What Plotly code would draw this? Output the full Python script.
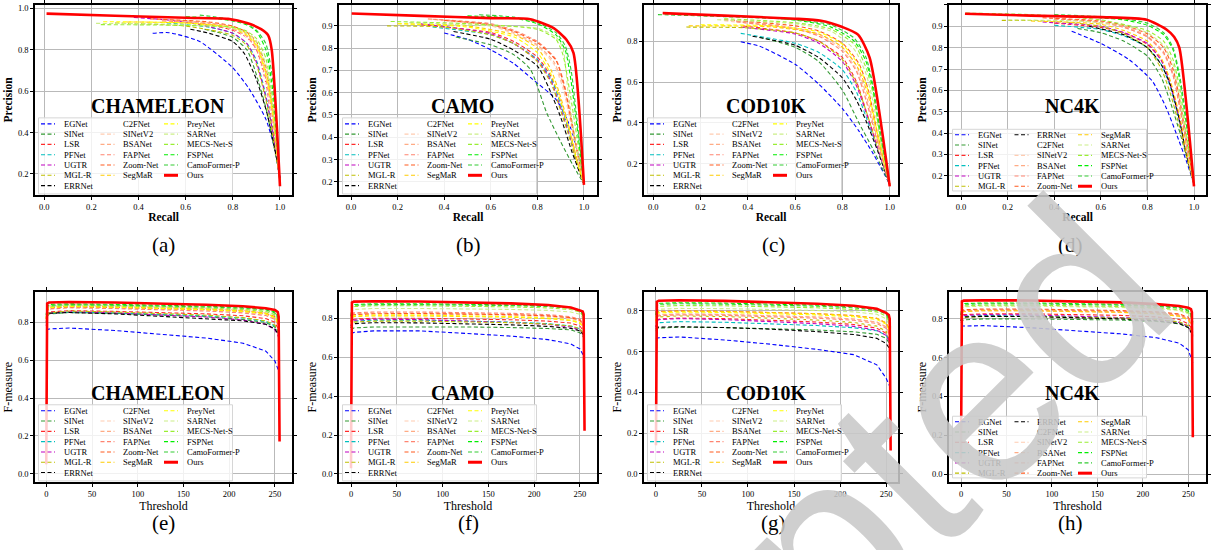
import plotly.graph_objects as go

W, H = 1211, 550

METHODS = ["EGNet", "SINet", "LSR", "PFNet", "UGTR", "MGL-R", "ERRNet",
           "C2FNet", "SINetV2", "BSANet", "FAPNet", "Zoom-Net", "SegMaR",
           "PreyNet", "SARNet", "MECS-Net-S", "FSPNet", "CamoFormer-P", "Ours"]
COLORS = ["#0000ff", "#339933", "#ff2a2a", "#00bfbf", "#c000c0", "#bfbf00", "#000000",
          "#ffffff", "#ffcbb0", "#ffab85", "#ff8470", "#ff5a1f", "#ffcc00",
          "#ffff00", "#ccee88", "#99ee33", "#00ee00", "#33cc33", "#ff0000"]
DATASETS = ["CHAMELEON", "CAMO", "COD10K", "NC4K"]
CAPTIONS = ["(a)", "(b)", "(c)", "(d)", "(e)", "(f)", "(g)", "(h)"]

# ---------------- PR curves (recall, precision), METHODS order ----------------
CHAM_PR_RECALL = [
    [0.46, 0.53, 0.66, 0.80, 0.87, 0.94, 0.985, 1.0],
    [0.68, 0.75, 0.8, 0.86, 0.9, 0.94, 0.98, 1.0],
    [0.55, 0.7, 0.8, 0.86, 0.9, 0.94, 0.97, 1.0],
    [0.52, 0.7, 0.8, 0.86, 0.9, 0.94, 0.97, 1.0],
    [0.38, 0.6, 0.8, 0.86, 0.9, 0.94, 0.97, 1.0],
    [0.30, 0.6, 0.8, 0.86, 0.9, 0.94, 0.97, 1.0],
    [0.62, 0.7, 0.8, 0.85, 0.9, 0.944, 0.986, 1.0],
    [0.5, 0.7, 0.8, 0.86, 0.9, 0.94, 0.97, 1.0],
    [0.5, 0.7, 0.8, 0.86, 0.9, 0.94, 0.97, 1.0],
    [0.55, 0.7, 0.8, 0.86, 0.9, 0.94, 0.97, 1.0],
    [0.5, 0.7, 0.8, 0.86, 0.9, 0.94, 0.97, 1.0],
    [0.45, 0.7, 0.8, 0.86, 0.9, 0.94, 0.97, 1.0],
    [0.35, 0.6, 0.8, 0.86, 0.9, 0.94, 0.97, 1.0],
    [0.25, 0.6, 0.8, 0.86, 0.9, 0.94, 0.97, 1.0],
    [0.22, 0.5, 0.7, 0.8, 0.86, 0.9, 0.94, 0.97, 1.0],
    [0.24, 0.5, 0.7, 0.8, 0.86, 0.9, 0.94, 0.97, 1.0],
    [0.6, 0.7, 0.8, 0.86, 0.9, 0.94, 0.97, 1.0],
    [0.66, 0.72, 0.8, 0.86, 0.9, 0.94, 0.97, 1.0],
    [0.01, 0.3, 0.6, 0.78, 0.86, 0.92, 0.95, 0.965, 1.0],
]
CHAM_PR_PRECISION = [
    [0.88, 0.883, 0.84, 0.713, 0.61, 0.465, 0.29, 0.18],
    [0.90, 0.88, 0.86, 0.80, 0.68, 0.52, 0.30, 0.17],
    [0.94, 0.92, 0.895, 0.86, 0.80, 0.64, 0.42, 0.16],
    [0.93, 0.91, 0.88, 0.83, 0.75, 0.58, 0.40, 0.17],
    [0.957, 0.935, 0.88, 0.83, 0.74, 0.57, 0.40, 0.17],
    [0.93, 0.915, 0.87, 0.82, 0.73, 0.56, 0.38, 0.17],
    [0.90, 0.88, 0.84, 0.78, 0.657, 0.497, 0.273, 0.18],
    [0.94, 0.925, 0.90, 0.86, 0.79, 0.64, 0.45, 0.16],
    [0.945, 0.93, 0.905, 0.87, 0.81, 0.67, 0.47, 0.16],
    [0.945, 0.93, 0.91, 0.875, 0.82, 0.69, 0.50, 0.16],
    [0.94, 0.925, 0.90, 0.865, 0.80, 0.66, 0.46, 0.16],
    [0.95, 0.935, 0.915, 0.885, 0.84, 0.72, 0.52, 0.15],
    [0.935, 0.93, 0.91, 0.88, 0.83, 0.70, 0.50, 0.15],
    [0.936, 0.93, 0.905, 0.87, 0.82, 0.68, 0.48, 0.16],
    [0.928, 0.925, 0.915, 0.905, 0.88, 0.84, 0.73, 0.52, 0.15],
    [0.922, 0.92, 0.915, 0.91, 0.89, 0.855, 0.76, 0.55, 0.15],
    [0.96, 0.955, 0.94, 0.92, 0.89, 0.80, 0.60, 0.15],
    [0.968, 0.96, 0.945, 0.925, 0.895, 0.83, 0.65, 0.15],
    [0.975, 0.965, 0.955, 0.95, 0.93, 0.90, 0.87, 0.80, 0.14],
]

CAMO_PR_RECALL = [
    [0.40, 0.5, 0.6, 0.7, 0.78, 0.88, 0.94, 0.98, 1.0],
    [0.45, 0.6, 0.7, 0.77, 0.84, 0.9, 0.95, 1.0],
    [0.3, 0.6, 0.7, 0.8, 0.86, 0.9, 0.94, 0.97, 1.0],
    [0.35, 0.6, 0.7, 0.8, 0.86, 0.9, 0.94, 0.97, 1.0],
    [0.30, 0.6, 0.7, 0.8, 0.86, 0.9, 0.94, 0.97, 1.0],
    [0.155, 0.4, 0.6, 0.7, 0.8, 0.86, 0.9, 0.94, 0.97, 1.0],
    [0.44, 0.6, 0.7, 0.8, 0.85, 0.9, 0.95, 1.0],
    [0.3, 0.6, 0.7, 0.8, 0.86, 0.9, 0.94, 0.97, 1.0],
    [0.33, 0.6, 0.7, 0.8, 0.87, 0.91, 0.94, 0.97, 1.0],
    [0.33, 0.6, 0.7, 0.8, 0.87, 0.91, 0.94, 0.97, 1.0],
    [0.35, 0.6, 0.7, 0.8, 0.88, 0.92, 0.95, 0.98, 1.0],
    [0.4, 0.6, 0.7, 0.8, 0.88, 0.92, 0.95, 0.98, 1.0],
    [0.2, 0.5, 0.7, 0.8, 0.86, 0.9, 0.94, 0.97, 1.0],
    [0.2, 0.5, 0.7, 0.8, 0.86, 0.9, 0.94, 0.97, 1.0],
    [0.25, 0.6, 0.8, 0.88, 0.91, 0.93, 0.96, 1.0],
    [0.17, 0.5, 0.8, 0.88, 0.91, 0.94, 0.97, 1.0],
    [0.5, 0.7, 0.8, 0.88, 0.92, 0.945, 0.97, 1.0],
    [0.55, 0.7, 0.8, 0.88, 0.92, 0.945, 0.97, 1.0],
    [0.003, 0.3, 0.6, 0.77, 0.87, 0.925, 0.955, 1.0],
]
CAMO_PR_PRECISION = [
    [0.868, 0.84, 0.793, 0.73, 0.66, 0.57, 0.45, 0.30, 0.19],
    [0.85, 0.815, 0.77, 0.705, 0.51, 0.38, 0.28, 0.19],
    [0.905, 0.87, 0.83, 0.76, 0.67, 0.56, 0.42, 0.30, 0.19],
    [0.895, 0.86, 0.82, 0.75, 0.66, 0.55, 0.41, 0.29, 0.19],
    [0.91, 0.865, 0.82, 0.745, 0.65, 0.53, 0.40, 0.28, 0.19],
    [0.90, 0.895, 0.86, 0.82, 0.74, 0.64, 0.52, 0.39, 0.28, 0.19],
    [0.875, 0.84, 0.79, 0.72, 0.62, 0.49, 0.33, 0.19],
    [0.92, 0.885, 0.85, 0.785, 0.70, 0.60, 0.45, 0.31, 0.19],
    [0.93, 0.90, 0.865, 0.81, 0.73, 0.62, 0.48, 0.33, 0.19],
    [0.932, 0.905, 0.87, 0.815, 0.74, 0.64, 0.50, 0.34, 0.19],
    [0.93, 0.91, 0.88, 0.83, 0.75, 0.62, 0.46, 0.30, 0.19],
    [0.925, 0.905, 0.875, 0.825, 0.745, 0.61, 0.45, 0.29, 0.19],
    [0.91, 0.90, 0.86, 0.80, 0.70, 0.58, 0.43, 0.30, 0.19],
    [0.91, 0.895, 0.85, 0.78, 0.68, 0.56, 0.42, 0.29, 0.19],
    [0.915, 0.90, 0.89, 0.85, 0.80, 0.62, 0.40, 0.19],
    [0.92, 0.91, 0.885, 0.84, 0.77, 0.60, 0.40, 0.19],
    [0.945, 0.935, 0.91, 0.86, 0.79, 0.65, 0.45, 0.19],
    [0.95, 0.94, 0.915, 0.87, 0.81, 0.70, 0.48, 0.19],
    [0.956, 0.945, 0.935, 0.93, 0.89, 0.838, 0.779, 0.186],
]

COD_PR_RECALL = [
    [0.37, 0.45, 0.6, 0.7, 0.8, 0.87, 0.93, 1.0],
    [0.45, 0.6, 0.7, 0.8, 0.87, 0.93, 1.0],
    [0.38, 0.6, 0.7, 0.8, 0.86, 0.9, 0.95, 1.0],
    [0.37, 0.6, 0.7, 0.8, 0.86, 0.9, 0.95, 1.0],
    [0.37, 0.6, 0.7, 0.8, 0.86, 0.9, 0.95, 1.0],
    [0.14, 0.4, 0.6, 0.7, 0.8, 0.86, 0.9, 0.95, 1.0],
    [0.42, 0.6, 0.7, 0.8, 0.86, 0.9, 0.95, 1.0],
    [0.3, 0.6, 0.7, 0.8, 0.86, 0.9, 0.95, 1.0],
    [0.3, 0.6, 0.7, 0.8, 0.86, 0.9, 0.95, 1.0],
    [0.35, 0.6, 0.7, 0.8, 0.86, 0.9, 0.95, 1.0],
    [0.35, 0.6, 0.7, 0.8, 0.86, 0.9, 0.95, 1.0],
    [0.3, 0.6, 0.7, 0.8, 0.87, 0.91, 0.95, 1.0],
    [0.15, 0.5, 0.7, 0.8, 0.87, 0.91, 0.95, 1.0],
    [0.2, 0.5, 0.7, 0.8, 0.87, 0.91, 0.95, 1.0],
    [0.27, 0.6, 0.75, 0.85, 0.9, 0.93, 0.96, 1.0],
    [0.3, 0.6, 0.75, 0.85, 0.9, 0.93, 0.96, 1.0],
    [0.5, 0.65, 0.75, 0.85, 0.9, 0.93, 0.96, 1.0],
    [0.02, 0.3, 0.6, 0.75, 0.85, 0.9, 0.93, 0.96, 1.0],
    [0.04, 0.3, 0.6, 0.71, 0.8, 0.866, 0.915, 1.0],
]
COD_PR_PRECISION = [
    [0.797, 0.775, 0.687, 0.59, 0.47, 0.36, 0.25, 0.10],
    [0.82, 0.77, 0.70, 0.56, 0.40, 0.27, 0.10],
    [0.875, 0.84, 0.80, 0.72, 0.60, 0.46, 0.28, 0.10],
    [0.838, 0.79, 0.745, 0.66, 0.55, 0.43, 0.27, 0.10],
    [0.869, 0.835, 0.79, 0.70, 0.58, 0.45, 0.27, 0.10],
    [0.869, 0.865, 0.84, 0.80, 0.71, 0.59, 0.46, 0.28, 0.10],
    [0.824, 0.78, 0.72, 0.62, 0.51, 0.41, 0.26, 0.10],
    [0.89, 0.85, 0.815, 0.74, 0.63, 0.49, 0.29, 0.10],
    [0.90, 0.86, 0.83, 0.76, 0.66, 0.52, 0.30, 0.10],
    [0.90, 0.865, 0.835, 0.77, 0.68, 0.54, 0.31, 0.10],
    [0.895, 0.86, 0.825, 0.75, 0.65, 0.51, 0.30, 0.10],
    [0.905, 0.875, 0.85, 0.79, 0.69, 0.56, 0.34, 0.10],
    [0.875, 0.87, 0.835, 0.77, 0.66, 0.53, 0.33, 0.10],
    [0.88, 0.875, 0.845, 0.785, 0.68, 0.55, 0.34, 0.10],
    [0.905, 0.885, 0.85, 0.76, 0.64, 0.50, 0.32, 0.10],
    [0.91, 0.89, 0.86, 0.785, 0.67, 0.54, 0.33, 0.10],
    [0.915, 0.895, 0.87, 0.80, 0.70, 0.56, 0.35, 0.10],
    [0.93, 0.92, 0.905, 0.88, 0.815, 0.72, 0.58, 0.36, 0.10],
    [0.937, 0.925, 0.91, 0.90, 0.869, 0.832, 0.72, 0.09],
]

# NC4K has no PreyNet curve (None)
NC4K_PR_RECALL = [
    [0.475, 0.6, 0.72, 0.82, 0.88, 0.93, 0.97, 1.0],
    [0.5, 0.6, 0.7, 0.8, 0.86, 0.9, 0.94, 0.97, 1.0],
    [0.4, 0.6, 0.7, 0.8, 0.86, 0.9, 0.94, 0.97, 1.0],
    [0.4, 0.6, 0.7, 0.8, 0.86, 0.9, 0.94, 0.97, 1.0],
    [0.35, 0.6, 0.7, 0.8, 0.86, 0.9, 0.94, 0.97, 1.0],
    [0.175, 0.4, 0.6, 0.7, 0.8, 0.86, 0.9, 0.94, 0.97, 1.0],
    [0.55, 0.7, 0.8, 0.86, 0.9, 0.94, 0.97, 1.0],
    [0.35, 0.6, 0.7, 0.8, 0.86, 0.9, 0.94, 0.97, 1.0],
    [0.4, 0.6, 0.7, 0.8, 0.87, 0.91, 0.94, 0.97, 1.0],
    [0.4, 0.6, 0.7, 0.8, 0.87, 0.91, 0.94, 0.97, 1.0],
    [0.4, 0.6, 0.7, 0.8, 0.87, 0.91, 0.94, 0.97, 1.0],
    [0.35, 0.6, 0.7, 0.8, 0.87, 0.91, 0.94, 0.97, 1.0],
    [0.3, 0.6, 0.7, 0.8, 0.86, 0.9, 0.94, 0.97, 1.0],
    None,
    [0.2, 0.5, 0.7, 0.8, 0.87, 0.91, 0.94, 0.97, 1.0],
    [0.02, 0.3, 0.6, 0.8, 0.87, 0.91, 0.94, 0.97, 1.0],
    [0.45, 0.6, 0.7, 0.8, 0.87, 0.91, 0.94, 0.97, 1.0],
    [0.4, 0.6, 0.7, 0.8, 0.87, 0.91, 0.94, 0.97, 1.0],
    [0.017, 0.3, 0.6, 0.797, 0.883, 0.915, 0.937, 1.0],
]
NC4K_PR_PRECISION = [
    [0.877, 0.82, 0.745, 0.645, 0.52, 0.38, 0.26, 0.16],
    [0.89, 0.87, 0.83, 0.76, 0.66, 0.54, 0.40, 0.28, 0.16],
    [0.915, 0.895, 0.87, 0.815, 0.74, 0.63, 0.46, 0.30, 0.16],
    [0.905, 0.885, 0.855, 0.80, 0.72, 0.61, 0.44, 0.29, 0.16],
    [0.92, 0.90, 0.87, 0.82, 0.74, 0.62, 0.45, 0.29, 0.16],
    [0.928, 0.925, 0.90, 0.865, 0.80, 0.70, 0.58, 0.42, 0.28, 0.16],
    [0.90, 0.86, 0.80, 0.72, 0.62, 0.45, 0.29, 0.16],
    [0.93, 0.91, 0.885, 0.84, 0.77, 0.67, 0.49, 0.31, 0.16],
    [0.935, 0.915, 0.895, 0.85, 0.77, 0.67, 0.52, 0.33, 0.16],
    [0.935, 0.92, 0.90, 0.855, 0.78, 0.68, 0.53, 0.34, 0.16],
    [0.935, 0.92, 0.895, 0.85, 0.775, 0.67, 0.51, 0.33, 0.16],
    [0.94, 0.925, 0.905, 0.865, 0.80, 0.70, 0.55, 0.35, 0.16],
    [0.925, 0.91, 0.88, 0.83, 0.75, 0.64, 0.47, 0.30, 0.16],
    None,
    [0.93, 0.925, 0.905, 0.87, 0.81, 0.72, 0.56, 0.36, 0.16],
    [0.962, 0.955, 0.93, 0.88, 0.83, 0.745, 0.60, 0.38, 0.16],
    [0.95, 0.94, 0.93, 0.905, 0.86, 0.79, 0.64, 0.42, 0.16],
    [0.955, 0.945, 0.935, 0.915, 0.87, 0.80, 0.66, 0.44, 0.16],
    [0.959, 0.95, 0.943, 0.931, 0.884, 0.85, 0.80, 0.15],
]

# ---------------- F-measure curves over threshold ----------------
THRESH = [0, 1, 3, 25, 75, 125, 175, 215, 240, 250, 253, 255]
THRESH_OURS = [0, 1, 3, 25, 75, 125, 175, 215, 240, 250, 253, 254, 255]

CHAM_F = [
    [0.76, 0.762, 0.765, 0.77, 0.757, 0.737, 0.717, 0.69, 0.648, 0.595, 0.56, 0.53],
    [0.80, 0.83, 0.845, 0.852, 0.848, 0.84, 0.83, 0.815, 0.80, 0.775, 0.75, 0.72],
    [0.80, 0.84, 0.855, 0.862, 0.858, 0.852, 0.845, 0.835, 0.82, 0.80, 0.77, 0.74],
    [0.80, 0.835, 0.848, 0.855, 0.85, 0.843, 0.835, 0.823, 0.805, 0.78, 0.755, 0.73],
    [0.78, 0.83, 0.848, 0.856, 0.85, 0.84, 0.828, 0.812, 0.79, 0.76, 0.735, 0.70],
    [0.05, 0.82, 0.85, 0.86, 0.855, 0.848, 0.838, 0.825, 0.808, 0.785, 0.76, 0.73],
    [0.82, 0.84, 0.848, 0.852, 0.845, 0.832, 0.82, 0.808, 0.79, 0.765, 0.74, 0.72],
    [0.80, 0.85, 0.865, 0.872, 0.868, 0.862, 0.855, 0.845, 0.83, 0.81, 0.785, 0.75],
    [0.82, 0.87, 0.885, 0.892, 0.888, 0.882, 0.874, 0.864, 0.85, 0.83, 0.80, 0.76],
    [0.82, 0.86, 0.875, 0.882, 0.878, 0.872, 0.865, 0.856, 0.843, 0.822, 0.795, 0.76],
    [0.81, 0.855, 0.87, 0.877, 0.873, 0.867, 0.86, 0.85, 0.836, 0.815, 0.79, 0.755],
    [0.82, 0.86, 0.875, 0.882, 0.879, 0.874, 0.868, 0.86, 0.848, 0.83, 0.805, 0.77],
    [0.82, 0.865, 0.88, 0.886, 0.882, 0.877, 0.87, 0.861, 0.848, 0.828, 0.80, 0.765],
    [0.82, 0.865, 0.878, 0.884, 0.88, 0.874, 0.867, 0.858, 0.845, 0.825, 0.798, 0.76],
    [0.83, 0.875, 0.888, 0.893, 0.89, 0.885, 0.879, 0.871, 0.86, 0.842, 0.815, 0.775],
    [0.83, 0.87, 0.883, 0.889, 0.886, 0.882, 0.876, 0.868, 0.857, 0.84, 0.815, 0.775],
    [0.84, 0.885, 0.895, 0.898, 0.895, 0.891, 0.886, 0.879, 0.87, 0.855, 0.83, 0.79],
    [0.84, 0.88, 0.89, 0.894, 0.891, 0.887, 0.882, 0.875, 0.866, 0.85, 0.825, 0.785],
    [0.05, 0.90, 0.905, 0.908, 0.905, 0.90, 0.893, 0.885, 0.875, 0.865, 0.855, 0.83, 0.17],
]
CAMO_F = [
    [0.72, 0.722, 0.727, 0.735, 0.735, 0.722, 0.708, 0.69, 0.668, 0.642, 0.615, 0.597],
    [0.74, 0.745, 0.75, 0.755, 0.756, 0.755, 0.752, 0.747, 0.74, 0.725, 0.71, 0.69],
    [0.76, 0.785, 0.795, 0.80, 0.80, 0.797, 0.792, 0.785, 0.775, 0.76, 0.74, 0.72],
    [0.76, 0.775, 0.785, 0.79, 0.79, 0.786, 0.78, 0.772, 0.76, 0.745, 0.725, 0.70],
    [0.76, 0.78, 0.79, 0.795, 0.793, 0.787, 0.778, 0.768, 0.755, 0.74, 0.72, 0.69],
    [0.75, 0.77, 0.78, 0.785, 0.785, 0.782, 0.777, 0.77, 0.76, 0.745, 0.725, 0.70],
    [0.75, 0.765, 0.772, 0.777, 0.776, 0.772, 0.766, 0.758, 0.748, 0.735, 0.72, 0.70],
    [0.77, 0.795, 0.803, 0.808, 0.808, 0.805, 0.80, 0.793, 0.783, 0.768, 0.75, 0.725],
    [0.78, 0.81, 0.818, 0.822, 0.822, 0.819, 0.814, 0.807, 0.797, 0.782, 0.765, 0.74],
    [0.78, 0.815, 0.823, 0.827, 0.827, 0.824, 0.819, 0.812, 0.802, 0.788, 0.77, 0.745],
    [0.785, 0.82, 0.828, 0.832, 0.832, 0.829, 0.825, 0.818, 0.808, 0.795, 0.775, 0.75],
    [0.78, 0.81, 0.818, 0.823, 0.824, 0.822, 0.818, 0.812, 0.803, 0.79, 0.772, 0.745],
    [0.77, 0.80, 0.808, 0.812, 0.812, 0.81, 0.805, 0.798, 0.788, 0.775, 0.757, 0.73],
    [0.775, 0.805, 0.812, 0.816, 0.816, 0.813, 0.808, 0.801, 0.79, 0.776, 0.758, 0.73],
    [0.79, 0.835, 0.845, 0.85, 0.85, 0.848, 0.845, 0.84, 0.832, 0.82, 0.80, 0.77],
    [0.80, 0.85, 0.86, 0.864, 0.864, 0.862, 0.858, 0.853, 0.845, 0.832, 0.812, 0.78],
    [0.81, 0.86, 0.87, 0.874, 0.874, 0.872, 0.868, 0.863, 0.855, 0.842, 0.822, 0.79],
    [0.81, 0.855, 0.866, 0.87, 0.87, 0.868, 0.865, 0.86, 0.852, 0.84, 0.82, 0.79],
    [0.03, 0.88, 0.885, 0.887, 0.886, 0.882, 0.876, 0.868, 0.855, 0.84, 0.835, 0.82, 0.222],
]
COD_F = [
    [0.663, 0.665, 0.668, 0.672, 0.657, 0.636, 0.611, 0.585, 0.535, 0.47, 0.435, 0.42],
    [0.70, 0.71, 0.715, 0.72, 0.718, 0.713, 0.706, 0.697, 0.685, 0.665, 0.645, 0.62],
    [0.72, 0.75, 0.76, 0.765, 0.762, 0.755, 0.745, 0.733, 0.715, 0.69, 0.665, 0.64],
    [0.72, 0.735, 0.742, 0.747, 0.744, 0.737, 0.728, 0.717, 0.702, 0.68, 0.66, 0.64],
    [0.72, 0.75, 0.757, 0.762, 0.757, 0.748, 0.737, 0.724, 0.705, 0.68, 0.655, 0.63],
    [0.14, 0.76, 0.77, 0.775, 0.772, 0.765, 0.755, 0.743, 0.725, 0.70, 0.675, 0.65],
    [0.71, 0.717, 0.72, 0.722, 0.718, 0.71, 0.698, 0.684, 0.665, 0.64, 0.62, 0.60],
    [0.73, 0.76, 0.768, 0.772, 0.77, 0.764, 0.756, 0.745, 0.728, 0.705, 0.68, 0.655],
    [0.74, 0.775, 0.782, 0.786, 0.784, 0.778, 0.77, 0.76, 0.745, 0.722, 0.697, 0.67],
    [0.74, 0.772, 0.78, 0.784, 0.782, 0.777, 0.77, 0.76, 0.745, 0.722, 0.698, 0.67],
    [0.74, 0.768, 0.776, 0.78, 0.778, 0.772, 0.764, 0.754, 0.738, 0.715, 0.69, 0.665],
    [0.75, 0.79, 0.797, 0.80, 0.798, 0.793, 0.786, 0.777, 0.763, 0.74, 0.715, 0.685],
    [0.75, 0.787, 0.795, 0.798, 0.797, 0.792, 0.786, 0.777, 0.764, 0.742, 0.716, 0.685],
    [0.75, 0.783, 0.79, 0.794, 0.792, 0.787, 0.78, 0.771, 0.757, 0.735, 0.71, 0.68],
    [0.76, 0.80, 0.808, 0.812, 0.811, 0.807, 0.802, 0.795, 0.783, 0.762, 0.735, 0.70],
    [0.77, 0.815, 0.822, 0.826, 0.825, 0.821, 0.815, 0.807, 0.795, 0.775, 0.748, 0.71],
    [0.78, 0.83, 0.837, 0.84, 0.838, 0.834, 0.828, 0.82, 0.808, 0.79, 0.763, 0.72],
    [0.78, 0.825, 0.832, 0.835, 0.833, 0.829, 0.823, 0.815, 0.803, 0.785, 0.758, 0.715],
    [0.14, 0.845, 0.85, 0.852, 0.849, 0.843, 0.835, 0.825, 0.81, 0.79, 0.78, 0.76, 0.114],
]
NC4K_F = [
    [0.763, 0.763, 0.764, 0.765, 0.755, 0.74, 0.723, 0.703, 0.675, 0.64, 0.60, 0.574],
    [0.78, 0.79, 0.795, 0.80, 0.80, 0.798, 0.794, 0.787, 0.775, 0.755, 0.735, 0.71],
    [0.79, 0.815, 0.822, 0.826, 0.826, 0.823, 0.818, 0.81, 0.797, 0.775, 0.755, 0.73],
    [0.79, 0.808, 0.813, 0.817, 0.816, 0.812, 0.806, 0.797, 0.783, 0.762, 0.74, 0.715],
    [0.79, 0.812, 0.818, 0.822, 0.82, 0.815, 0.807, 0.797, 0.782, 0.76, 0.737, 0.71],
    [0.08, 0.80, 0.808, 0.812, 0.812, 0.809, 0.804, 0.797, 0.785, 0.765, 0.743, 0.72],
    [0.79, 0.805, 0.81, 0.813, 0.812, 0.807, 0.80, 0.79, 0.776, 0.755, 0.735, 0.715],
    [0.80, 0.825, 0.832, 0.836, 0.836, 0.833, 0.828, 0.82, 0.808, 0.788, 0.765, 0.74],
    [0.80, 0.83, 0.837, 0.841, 0.841, 0.838, 0.833, 0.826, 0.814, 0.795, 0.772, 0.745],
    [0.80, 0.833, 0.84, 0.844, 0.844, 0.841, 0.836, 0.829, 0.818, 0.80, 0.777, 0.75],
    [0.80, 0.836, 0.843, 0.847, 0.847, 0.844, 0.839, 0.832, 0.821, 0.803, 0.78, 0.75],
    [0.80, 0.84, 0.847, 0.851, 0.851, 0.848, 0.843, 0.836, 0.826, 0.808, 0.785, 0.755],
    [0.80, 0.832, 0.838, 0.842, 0.842, 0.839, 0.834, 0.826, 0.814, 0.795, 0.772, 0.745],
    None,
    [0.81, 0.855, 0.862, 0.866, 0.866, 0.863, 0.859, 0.853, 0.843, 0.826, 0.803, 0.77],
    [0.81, 0.86, 0.867, 0.871, 0.871, 0.868, 0.864, 0.858, 0.848, 0.832, 0.808, 0.775],
    [0.82, 0.872, 0.879, 0.882, 0.882, 0.879, 0.875, 0.869, 0.86, 0.845, 0.822, 0.785],
    [0.82, 0.868, 0.875, 0.878, 0.878, 0.875, 0.871, 0.865, 0.856, 0.84, 0.817, 0.78],
    [0.08, 0.89, 0.894, 0.896, 0.895, 0.891, 0.885, 0.876, 0.866, 0.857, 0.85, 0.835, 0.19],
]

LEGEND_COLS_19 = [METHODS[0:7], METHODS[7:13], METHODS[13:19]]
LEGEND_COLS_NC4K = [["EGNet", "SINet", "LSR", "PFNet", "UGTR", "MGL-R"],
                    ["ERRNet", "C2FNet", "SINetV2", "BSANet", "FAPNet", "Zoom-Net"],
                    ["SegMaR", "SARNet", "MECS-Net-S", "FSPNet", "CamoFormer-P", "Ours"]]

PR_RECALL = [CHAM_PR_RECALL, CAMO_PR_RECALL, COD_PR_RECALL, NC4K_PR_RECALL]
PR_PRECISION = [CHAM_PR_PRECISION, CAMO_PR_PRECISION, COD_PR_PRECISION, NC4K_PR_PRECISION]
F_VALUES = [CHAM_F, CAMO_F, COD_F, NC4K_F]

# ---------------- layout geometry (screen pixels) ----------------
COL_PX = [(35, 292), (339, 597), (644, 898), (949, 1206)]
ROW_PX = [(2, 193), (290.5, 482)]
TOP_YRANGE = [[0.098, 1.017], [0.141, 0.994], [0.048, 0.977], [0.11, 1.0]]
TOP_YTICKS = [[0.2, 0.4, 0.6, 0.8, 1.0], [0.2, 0.3, 0.4, 0.5, 0.6, 0.7, 0.8, 0.9],
              [0.2, 0.4, 0.6, 0.8], [0.2, 0.3, 0.4, 0.5, 0.6, 0.7, 0.8, 0.9, 1.0]]
TOP_XRANGE = [[-0.039, 1.051], [-0.0515, 1.056], [-0.039, 1.035], [-0.0515, 1.0515]]
BOT_XRANGE = [[-12.3, 268.6], [-13.1, 268.6], [-13.0, 263.0], [-13.2, 269.5]]
BOT_YRANGE = [[-0.046, 0.961], [-0.043, 0.935], [-0.042, 0.893], [-0.043, 0.939]]
CAPTION_X = [163, 468, 773, 1070]
CAPTION_Y = [243, 523]

SERIF = "Liberation Serif, Times New Roman, Times, DejaVu Serif, serif"
DASH = "4px,2.5px"

fig = go.Figure()
shapes = []
annotations = []


def line_style(name, color):
    if name == "Ours":
        return dict(color=color, width=2.6)
    return dict(color=color, width=1.1, dash=DASH)


def px_x(p):
    return p / W


def px_y(p):
    return 1 - p / H


for k in range(8):
    row = k // 4
    col = k % 4
    ax = "" if k == 0 else str(k + 1)
    xref, yref = "x" + ax, "y" + ax
    L, R = COL_PX[col]
    T, B = ROW_PX[row]
    nc4k = (col == 3)

    for i, name in enumerate(METHODS):
        if row == 0:
            xs = PR_RECALL[col][i]
            ys = PR_PRECISION[col][i]
            if xs is None:
                continue
            ls = line_style(name, COLORS[i])
            ls["shape"] = "spline"
            ls["smoothing"] = 0.6
        else:
            ys = F_VALUES[col][i]
            if ys is None:
                continue
            xs = THRESH_OURS if name == "Ours" else THRESH
            ls = line_style(name, COLORS[i])
        fig.add_trace(go.Scatter(x=xs, y=ys, mode="lines", line=ls, name=name,
                                 showlegend=False, hoverinfo="skip",
                                 xaxis=xref, yaxis=yref))

    common = dict(showline=True, linecolor="black", linewidth=1.5, mirror="ticks",
                  ticks="outside", ticklen=3, tickwidth=1, tickcolor="black",
                  showgrid=True, gridcolor="#b9b9b9", gridwidth=1, zeroline=False,
                  tickfont=dict(family=SERIF, size=8.5, color="black"))
    if row == 0:
        xa = dict(common, domain=[px_x(L), px_x(R)], anchor=yref, range=TOP_XRANGE[col],
                  tickvals=[0, 0.2, 0.4, 0.6, 0.8, 1.0], tickformat=".1f",
                  title=dict(text="Recall", standoff=2,
                             font=dict(family=SERIF, size=11.5, color="black", weight="bold")))
        ya = dict(common, domain=[px_y(B), px_y(T)], anchor=xref, range=TOP_YRANGE[col],
                  tickvals=TOP_YTICKS[col], tickformat=".1f",
                  title=dict(text="Precision", standoff=3,
                             font=dict(family=SERIF, size=11.5, color="black", weight="bold")))
    else:
        xa = dict(common, domain=[px_x(L), px_x(R)], anchor=yref, range=BOT_XRANGE[col],
                  tickvals=[0, 50, 100, 150, 200, 250],
                  title=dict(text="Threshold", standoff=2,
                             font=dict(family=SERIF, size=12, color="black")))
        ya = dict(common, domain=[px_y(B), px_y(T)], anchor=xref, range=BOT_YRANGE[col],
                  tickvals=[0.0, 0.2, 0.4, 0.6, 0.8], tickformat=".1f",
                  title=dict(text="F-measure", standoff=3,
                             font=dict(family=SERIF, size=12, color="black")))
    fig.layout["xaxis" + ax] = xa
    fig.layout["yaxis" + ax] = ya

    annotations.append(dict(text=DATASETS[col], xref="paper", yref="paper",
                            x=px_x(L + 0.48 * (R - L)), y=px_y(T + 0.53 * (B - T)),
                            showarrow=False, xanchor="center", yanchor="middle",
                            font=dict(family=SERIF, size=20, color="black", weight="bold")))
    annotations.append(dict(text=CAPTIONS[k], xref="paper", yref="paper",
                            x=px_x(CAPTION_X[col]), y=px_y(CAPTION_Y[row]),
                            showarrow=False, xanchor="center", yanchor="middle",
                            font=dict(family=SERIF, size=21, color="black")))

    cols = LEGEND_COLS_NC4K if nc4k else LEGEND_COLS_19
    if nc4k:
        box_t, box_b, row1 = 125, 187, 130.5
    else:
        box_t, box_b, row1 = 113.5, 190, 119.5
    spacing = 10.35
    shapes.append(dict(type="rect", xref="paper", yref="paper", layer="above",
                       x0=px_x(L + 3.5), x1=px_x(L + 197.5),
                       y0=px_y(T + box_b), y1=px_y(T + box_t),
                       fillcolor="rgba(255,255,255,0.8)",
                       line=dict(color="#d6d6d6", width=1)))
    line_x = [6, 65.5, 129]
    text_x = [27, 85.5, 149.5]
    for c, names in enumerate(cols):
        for r, name in enumerate(names):
            i = METHODS.index(name)
            yy = T + row1 + r * spacing
            ls = line_style(name, COLORS[i])
            if name == "Ours":
                ls["width"] = 3
            shapes.append(dict(type="line", xref="paper", yref="paper", layer="above",
                               x0=px_x(L + line_x[c]), x1=px_x(L + line_x[c] + 14),
                               y0=px_y(yy), y1=px_y(yy), line=ls))
            annotations.append(dict(text=name, xref="paper", yref="paper",
                                    x=px_x(L + text_x[c]), y=px_y(yy),
                                    showarrow=False, xanchor="left", yanchor="middle",
                                    font=dict(family=SERIF, size=8.5, color="black")))

# watermark
annotations.append(dict(text="Accepted", xref="paper", yref="paper",
                        x=px_x(748), y=px_y(622), showarrow=False,
                        xanchor="center", yanchor="middle", textangle=-45,
                        font=dict(family="Liberation Sans, Arial, sans-serif", size=255,
                                  color="rgba(200,200,200,0.88)")))

fig.update_layout(width=W, height=H, margin=dict(l=0, r=0, t=0, b=0),
                  paper_bgcolor="white", plot_bgcolor="white",
                  showlegend=False, shapes=shapes, annotations=annotations,
                  font=dict(family=SERIF, color="black"))

# remove the default page margin so the figure fills the window exactly
fig.write_html("out.html", config={"displayModeBar": False},
               post_script="document.body.style.margin='0';document.body.style.overflow='hidden';")
